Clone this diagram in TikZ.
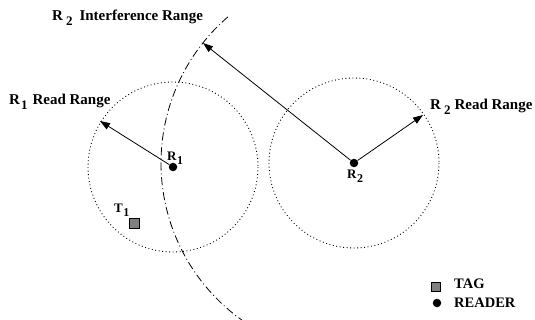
\documentclass[tikz,border=0pt]{standalone}
\usepackage{fontspec}
\setmainfont{Liberation Serif}
\usetikzlibrary{arrows.meta}
\newcommand\lsub[2]{\kern#2\raisebox{-5pt}{\fontsize{13}{13}\selectfont #1}}
\newcommand\ssub[1]{\kern0.5pt\raisebox{-4pt}{\fontsize{12}{12}\selectfont #1}}
\begin{document}
\begin{tikzpicture}[x=1pt,y=-1pt,
  lbl/.style={font=\fontsize{15}{18}\selectfont\bfseries, inner sep=0pt, anchor=base west},
  slbl/.style={font=\fontsize{13}{15}\selectfont\bfseries, inner sep=0pt, anchor=base west},
  arr/.style={line width=0.8pt, -{Triangle[length=10pt,width=7pt]}},
  rangecirc/.style={line width=0.9pt, dash pattern=on 0.9pt off 2.6pt},
  interf/.style={line width=0.8pt, dash pattern=on 8pt off 3pt on 1pt off 3pt},
  reader/.style={circle, fill=black, inner sep=0pt, minimum size=8.5pt},
  tag/.style={rectangle, draw=black, fill=gray, line width=0.6pt, inner sep=0pt, minimum size=9pt}]
\useasboundingbox (0,0) rectangle (535,320);

% readers
\node[reader] (R1) at (173,167) {};
\node[reader] (R2) at (354,163) {};

% read ranges
\draw[rangecirc] (R1.center) circle[radius=85];
\draw[rangecirc] (R2.center) circle[radius=85];

% interference arc
\draw[interf] ([shift={(-130.8:193)}]R2.center) arc[start angle=-130.8, end angle=-234.9, radius=193];

% arrow tips
\coordinate (t1) at (100,121);
\coordinate (t2) at (423,115);
\coordinate (ti) at (203,43);
\draw[arr] (R1) -- (t1);
\draw[arr] (R2) -- (t2);
\draw[arr] (R2) -- (ti);

% tag
\node[tag, minimum size=10pt] (T1) at (134,223) {};

% labels
\node[lbl] (lint) at (52,21) {R\lsub{2}{3pt}\kern7pt Interference Range};
\node[lbl] (lr1) at (9,105) {R\lsub{1}{1pt}\kern5pt Read Range};
\node[lbl] (lr2) at (430,110) {R\lsub{2}{3pt}\kern4pt Read Range};
\node[slbl] (nr1) at (167,161) {R\ssub{1}};
\node[slbl] (nr2) at (347,179) {R\ssub{2}};
\node[slbl] (nt1) at (114,213) {T\ssub{1}};

% legend
\node[tag] (legtag) at (436,287) {};
\node[reader] (legreader) at (437,303) {};
\node[lbl, font=\fontsize{14.5}{16}\selectfont\bfseries] (ltag) at (454,288) {TAG};
\node[lbl, font=\fontsize{14.5}{16}\selectfont\bfseries] (lreader) at (454,307) {READER};
\end{tikzpicture}
\end{document}
